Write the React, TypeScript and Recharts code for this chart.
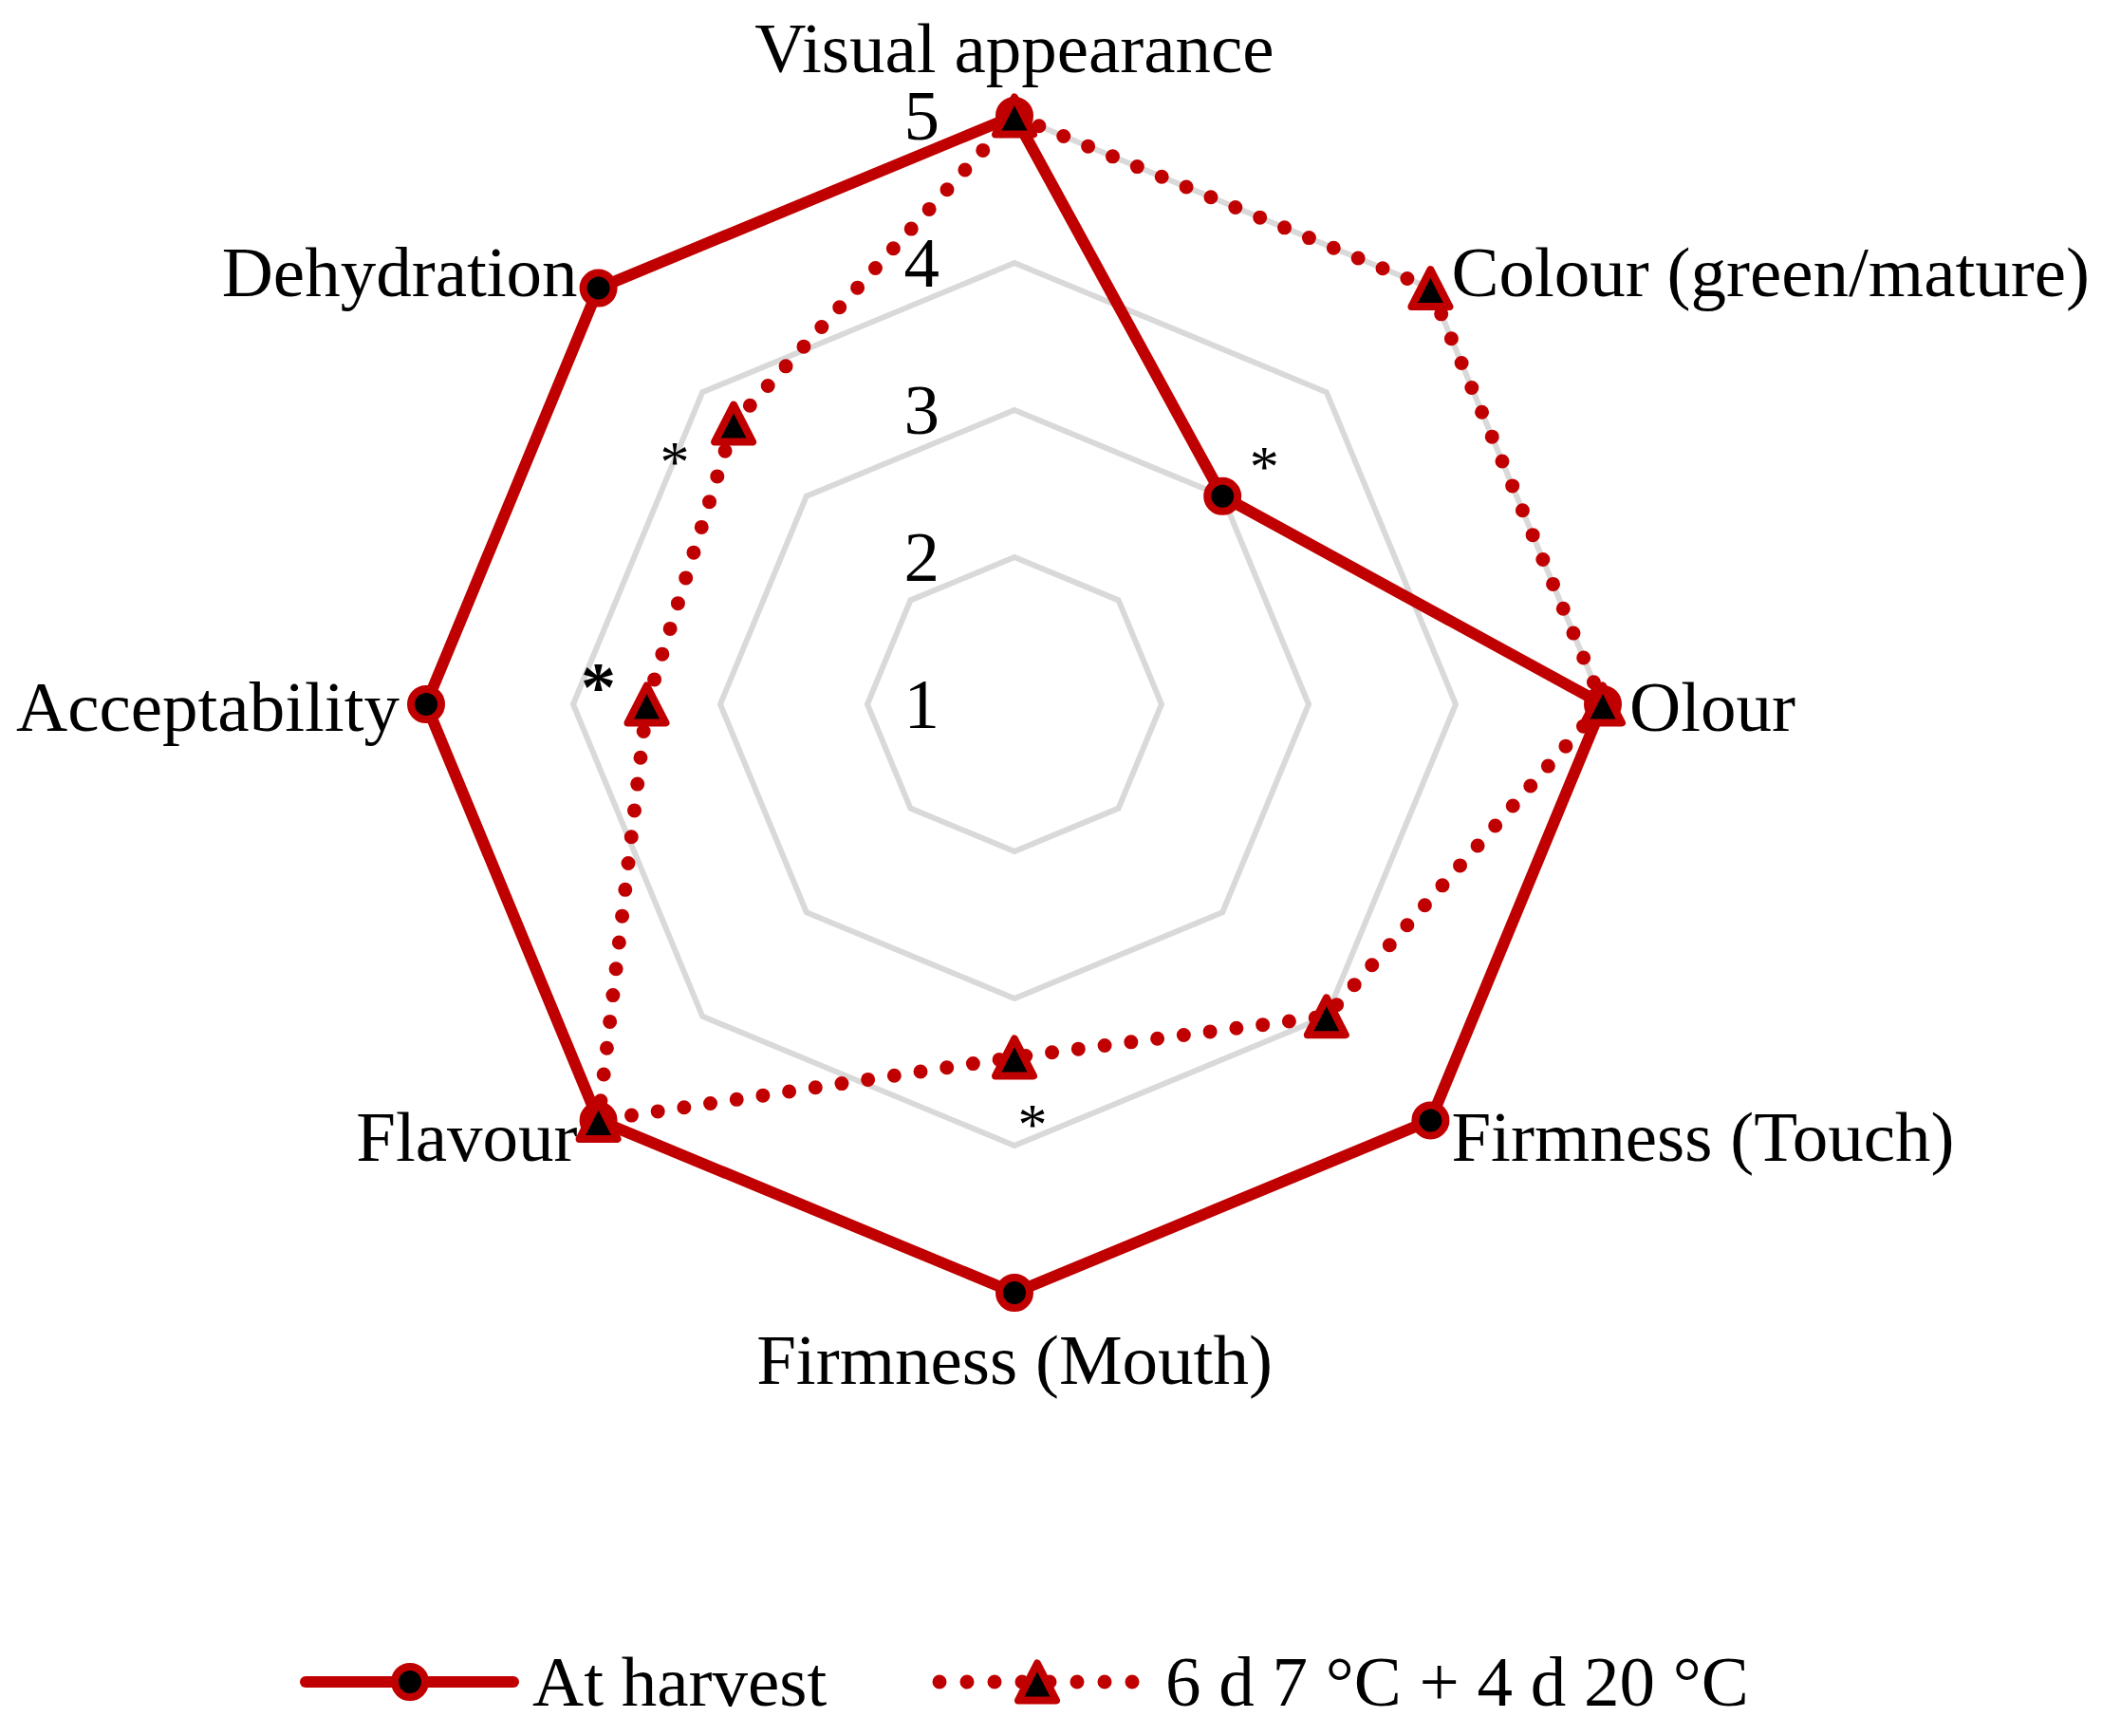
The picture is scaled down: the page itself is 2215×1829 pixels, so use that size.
import {
	Legend,
	PolarAngleAxis,
	PolarGrid,
	PolarRadiusAxis,
	Radar,
	RadarChart,
} from "recharts";

const ATTRIBUTES = [
	"Visual appearance",
	"Colour (green/mature)",
	"Olour",
	"Firmness (Touch)",
	"Firmness (Mouth)",
	"Flavour",
	"Acceptability",
	"Dehydration",
];
const AT_HARVEST = [5, 3, 5, 5, 5, 5, 5, 5];
const STORED = [5, 5, 5, 4, 3.4, 5, 3.5, 3.7];
// significance marks next to the points
const SIG_HARVEST = ["", "*", "", "", "", "", "", ""];
const SIG_STORED = ["", "", "", "", "*", "", "*", "*"];
const SCALE_TICKS = [1, 2, 3, 4, 5];
const SERIES = ["At harvest", "6 d 7 °C + 4 d 20 °C"];

const DATA = ATTRIBUTES.map((attr, i) => ({
	attr,
	harvest: AT_HARVEST[i],
	stored: STORED[i],
}));

const RED = "#C00000";
const FONT = "'Liberation Serif', 'Times New Roman', serif";
const FS = 75;

// where each asterisk sits relative to its point
const STAR_OFFSET: Record<number, [number, number]> = {
	1: [44, -39],
	4: [19, 63],
	6: [-51, -26],
	7: [-62, 33],
};
const BOLD_STAR = new Set([6]);

function Star({ x, y, index }: { x: number; y: number; index: number }) {
	const [dx, dy] = STAR_OFFSET[index] || [0, 0];
	const bold = BOLD_STAR.has(index);
	const fs = bold ? 74 : 62;
	return (
		<text
			x={x + dx}
			y={y + dy + fs * 0.45}
			textAnchor="middle"
			fontSize={fs}
			fontWeight={bold ? "bold" : "normal"}
			fontFamily={FONT}
			fill="#000"
		>
			*
		</text>
	);
}

function triPath(x: number, y: number) {
	return `M${x},${y - 19.5} L${x + 20},${y + 19.5} L${x - 20},${y + 19.5} Z`;
}

function HarvestDot(p: any) {
	return (
		<g key={`hd-${p.index}`}>
			<circle cx={p.cx} cy={p.cy} r={16} fill="#000" stroke={RED} strokeWidth={8} />
			{SIG_HARVEST[p.index] ? <Star x={p.cx} y={p.cy} index={p.index} /> : null}
		</g>
	);
}

function StoredDot(p: any) {
	return (
		<g key={`sd-${p.index}`}>
			<path
				d={triPath(p.cx, p.cy)}
				fill="#000"
				stroke={RED}
				strokeWidth={8}
				strokeLinejoin="round"
			/>
			{SIG_STORED[p.index] ? <Star x={p.cx} y={p.cy} index={p.index} /> : null}
		</g>
	);
}

function AngleTick(p: any) {
	const a = ((90 - (p.index * 360) / ATTRIBUTES.length) * Math.PI) / 180;
	const ux = Math.cos(a);
	const uy = -Math.sin(a);
	const vx = p.x - ux;
	const vy = p.y - uy;
	let anchor = "middle";
	if (ux > 0.1) anchor = "start";
	if (ux < -0.1) anchor = "end";
	const dx = Math.abs(ux) < 0.1 ? 0 : Math.sign(ux) * (Math.abs(ux) > 0.9 ? 28 : 22);
	const dy = uy < -0.9 ? -46 : uy > 0.9 ? 96 : uy < -0.5 ? 8 : uy > 0.5 ? 43 : 28;
	return (
		<text
			x={vx + dx}
			y={vy + dy}
			textAnchor={anchor}
			fontSize={FS}
			fontFamily={FONT}
			fill="#000"
		>
			{p.payload.value}
		</text>
	);
}

function RadiusTick(p: any) {
	return (
		<text
			x={p.x - 79}
			y={p.y + 25}
			textAnchor="end"
			fontSize={FS}
			fontFamily={FONT}
			fill="#000"
		>
			{p.payload.value}
		</text>
	);
}

function LegendBox() {
	return (
		<svg width={2215} height={109} style={{ display: "block" }}>
			<line x1={322} x2={541} y1={52} y2={52} stroke={RED} strokeWidth={12} strokeLinecap="round" />
			<circle cx={432} cy={52} r={16} fill="#000" stroke={RED} strokeWidth={8} />
			<text x={561} y={77} fontSize={FS} fontFamily={FONT} fill="#000">
				{SERIES[0]}
			</text>
			<line
				x1={990}
				x2={1201}
				y1={52}
				y2={52}
				stroke={RED}
				strokeWidth={15}
				strokeLinecap="round"
				strokeDasharray="0 29"
			/>
			<path d={triPath(1093, 52)} fill="#000" stroke={RED} strokeWidth={8} strokeLinejoin="round" />
			<text x={1228} y={77} fontSize={FS} fontFamily={FONT} fill="#000">
				{SERIES[1]}
			</text>
		</svg>
	);
}

export default function App() {
	return (
		<div
			style={{
				position: "absolute",
				left: 0,
				top: 0,
				width: 2215,
				height: 1829,
				background: "#fff",
				fontFamily: FONT,
			}}
		>
			<RadarChart
				width={2215}
				height={1829}
				data={DATA}
				cx={1069}
				cy={742}
				outerRadius={620}
				margin={{ top: 0, right: 0, bottom: 0, left: 0 }}
			>
				<PolarGrid gridType="polygon" radialLines={false} stroke="#D9D9D9" strokeWidth={6} />
				<PolarRadiusAxis
					angle={90}
					domain={[1, 5]}
					ticks={SCALE_TICKS as any}
					tickCount={5}
					axisLine={false}
					tickLine={false}
					tick={RadiusTick}
				/>
				<PolarAngleAxis
					dataKey="attr"
					axisLine={false}
					tickLine={false}
					tickSize={1}
					tick={AngleTick}
				/>
				<Radar
					name={SERIES[0]}
					dataKey="harvest"
					stroke={RED}
					strokeWidth={12}
					fill="none"
					fillOpacity={0}
					dot={HarvestDot}
					activeDot={false}
					isAnimationActive={false}
				/>
				<Radar
					name={SERIES[1]}
					dataKey="stored"
					stroke={RED}
					strokeWidth={15}
					strokeDasharray="0 28"
					strokeLinecap="round"
					fill="none"
					fillOpacity={0}
					dot={StoredDot}
					activeDot={false}
					isAnimationActive={false}
				/>
				<Legend
					content={LegendBox}
					wrapperStyle={{ position: "absolute", left: 0, top: 1720, width: 2215, height: 109 }}
				/>
			</RadarChart>
		</div>
	);
}
